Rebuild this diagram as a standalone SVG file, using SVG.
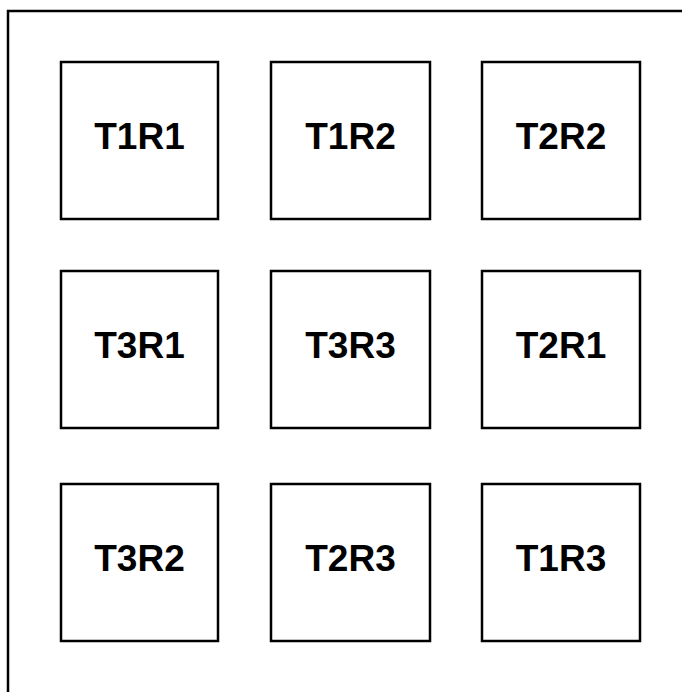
<svg xmlns="http://www.w3.org/2000/svg" width="682" height="692" viewBox="0 0 682 692">
<style>
.frame{fill:#fff;stroke:#000;stroke-width:2.5}
.box{fill:#fff;stroke:#000;stroke-width:2.5}
.lbl{font-family:"Liberation Sans",Arial,sans-serif;font-weight:bold;font-size:37px;fill:#000;text-anchor:middle}
</style>
<rect x="0" y="0" width="682" height="692" fill="#fff"/>
<rect class="frame" x="8" y="11" width="700" height="700"/>
<g id="connectors"/>
<g id="n-T1R1"><rect class="box" x="61" y="62" width="157" height="157"/><text class="lbl" x="139.5" y="149">T1R1</text></g>
<g id="n-T1R2"><rect class="box" x="271" y="62" width="159" height="157"/><text class="lbl" x="350.5" y="149">T1R2</text></g>
<g id="n-T2R2"><rect class="box" x="482" y="62" width="158" height="157"/><text class="lbl" x="561" y="149">T2R2</text></g>
<g id="n-T3R1"><rect class="box" x="61" y="271" width="157" height="157"/><text class="lbl" x="139.5" y="358">T3R1</text></g>
<g id="n-T3R3"><rect class="box" x="271" y="271" width="159" height="157"/><text class="lbl" x="350.5" y="358">T3R3</text></g>
<g id="n-T2R1"><rect class="box" x="482" y="271" width="158" height="157"/><text class="lbl" x="561" y="358">T2R1</text></g>
<g id="n-T3R2"><rect class="box" x="61" y="484" width="157" height="157"/><text class="lbl" x="139.5" y="571">T3R2</text></g>
<g id="n-T2R3"><rect class="box" x="271" y="484" width="159" height="157"/><text class="lbl" x="350.5" y="571">T2R3</text></g>
<g id="n-T1R3"><rect class="box" x="482" y="484" width="158" height="157"/><text class="lbl" x="561" y="571">T1R3</text></g>
</svg>
